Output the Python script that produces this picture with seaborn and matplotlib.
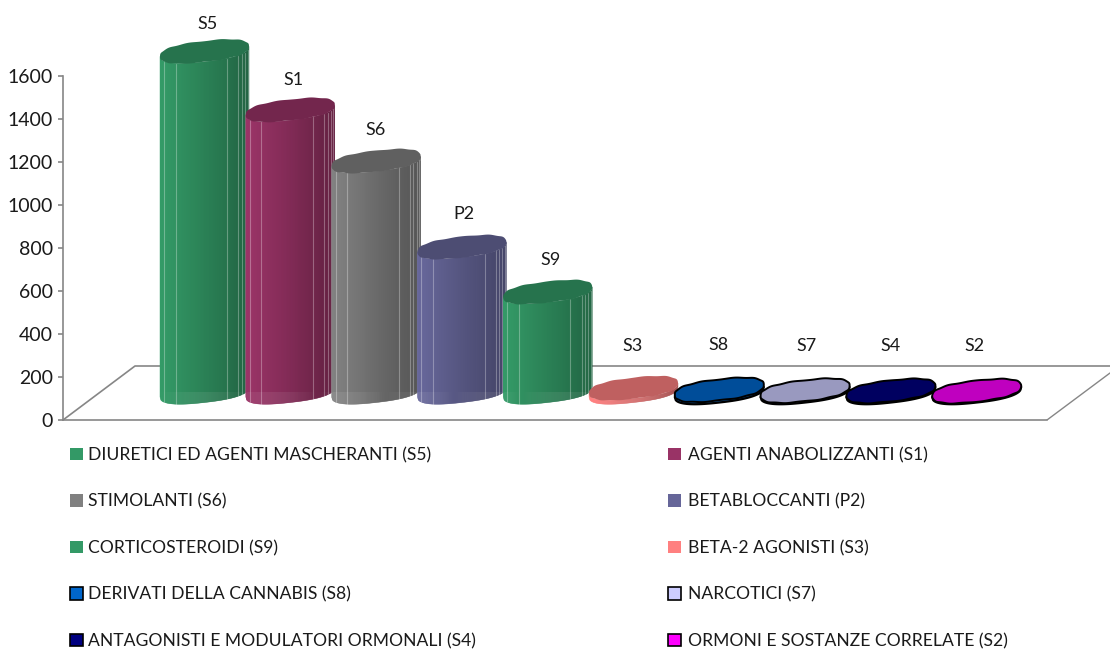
import numpy as np
import pandas as pd
import matplotlib
matplotlib.use("Agg")
import matplotlib.pyplot as plt
from matplotlib.collections import PolyCollection
from matplotlib.patches import Polygon, Patch
import seaborn as sns

codes = ["S5", "S1", "S6", "P2", "S9", "S3", "S8", "S7", "S4", "S2"]
names = ["DIURETICI ED AGENTI MASCHERANTI (S5)", "AGENTI ANABOLIZZANTI (S1)", "STIMOLANTI (S6)",
         "BETABLOCCANTI (P2)", "CORTICOSTEROIDI (S9)", "BETA-2 AGONISTI (S3)",
         "DERIVATI DELLA CANNABIS (S8)", "NARCOTICI (S7)",
         "ANTAGONISTI E MODULATORI ORMONALI (S4)", "ORMONI E SOSTANZE CORRELATE (S2)"]
values = [1584, 1312, 1074, 674, 465, 18, 10, 6, 5, 4]
colors = ["#339966", "#993366", "#808080", "#666699", "#339966",
          "#FF8080", "#0066CC", "#CCCCFF", "#000080", "#FF00FF"]
outlined = [False, False, False, False, False, False, True, True, True, True]
y_ticks = [0, 200, 400, 600, 800, 1000, 1200, 1400, 1600]

sns.set_theme(style="white")
plt.rcParams["font.family"] = ["Lato", "DejaVu Sans"]
GRAY = "#868686"
TXT = "#1a1a1a"

W, H = 1110, 649
PXU = 0.215          # pixels per value unit
X0, DX = 204.5, 85.8 # pixel centre of first bar, pixel step
fx = lambda px: (px - X0) / DX
fy = lambda py: (420 - py) / PXU

fig = plt.figure(figsize=(W / 100, H / 100), dpi=100)
ax = fig.add_axes([63 / W, (H - 420) / H, (W - 63) / W, 420 / H])

df = pd.DataFrame({"code": codes, "name": names, "value": values})
sns.barplot(data=df, x="code", y="value", hue="name", hue_order=names, palette=colors,
            dodge=False, width=89 / DX, legend=False, ax=ax, saturation=1, linewidth=0)

ax.set_xlim(fx(63), fx(W))
ax.set_ylim(0, fy(0))
ax.set_xlabel("")
ax.set_ylabel("")
ax.set_xticks([])
ax.set_yticks(y_ticks)
ax.tick_params(axis="y", length=3.5, width=1.2, color=GRAY, labelsize=14, labelcolor=TXT, pad=3.7, left=True)
for s in ["top", "right"]:
    ax.spines[s].set_visible(False)
for s in ["left", "bottom"]:
    ax.spines[s].set_color(GRAY)
    ax.spines[s].set_linewidth(1.2)
ax.spines["left"].set_bounds(0, 1600)
ax.spines["bottom"].set_bounds(fx(63), fx(1047))

# floor of the 3-D plot
ax.plot([fx(63), fx(135), fx(W)], [fy(420), fy(366), fy(366)], color=GRAY, lw=1.2, zorder=1, clip_on=False)
ax.plot([fx(1047), fx(W)], [fy(420), fy(373)], color=GRAY, lw=1.0, zorder=1)

FLOOR = fy(392)
A = 44.5 / DX
B = 10.5 / PXU
K = 5.0 / PXU
RIP = 0.3 / PXU
N = 2.5              # slightly fuller than a true ellipse
u = np.linspace(-1, 1, 91)
lower = -B * (1 - np.abs(u) ** N) ** (1 / N) + K * u
slats = np.array([0.045, 0.176, 0.755, 0.88, 0.92, 0.955, 0.985]) * 2 - 1
t = np.linspace(0, 2 * np.pi, 241)
ct = np.sign(np.cos(t)) * np.abs(np.cos(t)) ** (2 / N)
st = np.sign(np.sin(t)) * np.abs(np.sin(t)) ** (2 / N)
lifts = [27, 30, 31, 33, 32, 42, 45, 45, 45, 45]
nudge = [3, 3, -1, 2, 3, -1, -1, 1, 0, -2]

for i, (bar, val, col) in enumerate(zip(ax.patches, values, colors)):
    z = 3 + i
    cx = i
    top = FLOOR + val
    rgb = np.array(matplotlib.colors.to_rgb(col))
    edge = "black" if outlined[i] else "none"
    bar.set_y(FLOOR)
    bar.set_height(val)
    bar.set_zorder(z)
    xs = cx + A * u
    body = np.r_[np.c_[xs, FLOOR + lower], np.c_[xs[::-1], top + lower[::-1]]]
    clip = Polygon(body, closed=True, transform=ax.transData)
    bar.set_clip_path(clip)
    # gradient slices across the cylinder
    polys, cols = [], []
    for j in range(len(u) - 1):
        polys.append([(xs[j], FLOOR + lower[j]), (xs[j + 1], FLOOR + lower[j + 1]),
                      (xs[j + 1], top + lower[j + 1]), (xs[j], top + lower[j])])
        f = 1.02 - 0.37 * (j / (len(u) - 2))
        cols.append(np.clip(rgb * f, 0, 1))
    ax.add_collection(PolyCollection(polys, facecolors=cols, edgecolors=cols, linewidths=0.3, zorder=z + 0.1))
    if val > 100:
        for s in slats:
            low = -B * (1 - abs(s) ** N) ** (1 / N) + K * s
            ax.plot([cx + A * s] * 2, [FLOOR + low, top + low], color="white", alpha=0.3, lw=0.8, zorder=z + 0.2)
    if outlined[i]:
        ax.plot(xs, FLOOR + lower, color="black", lw=1.6, zorder=z + 0.2)
    # top face
    ex = cx + A * ct
    ey = top + B * st + K * ct + RIP * np.sin(11 * t + i)
    ax.add_patch(Polygon(np.c_[ex, ey], closed=True, facecolor=rgb * 0.75, edgecolor=edge,
                         linewidth=1.4 if outlined[i] else 0, zorder=z + 0.3))
    # category label above bar
    ax.annotate(codes[i], (cx, top), xytext=(nudge[i] * 0.72, lifts[i] * 0.72), textcoords="offset points",
                ha="center", va="center", fontsize=13, color=TXT, zorder=30, annotation_clip=False)

handles = [Patch(facecolor=c, edgecolor="black" if o else c, linewidth=1.2 if o else 0)
           for c, o in zip(colors, outlined)]

def leg(idx, px, pad):
    return fig.legend([handles[k] for k in idx], [names[k] for k in idx], loc="upper left",
                      bbox_to_anchor=(px / W, 1 - 447 / H), bbox_transform=fig.transFigure,
                      frameon=False, fontsize=12.6, labelspacing=1.735, handlelength=0.72, handleheight=0.72,
                      handletextpad=pad, borderaxespad=0, borderpad=0, labelcolor=TXT)

leg([0, 2, 4, 6, 8], 70, 0.28)
leg([1, 3, 5, 7, 9], 668, 0.4)

fig.savefig("out.png", dpi=100)
